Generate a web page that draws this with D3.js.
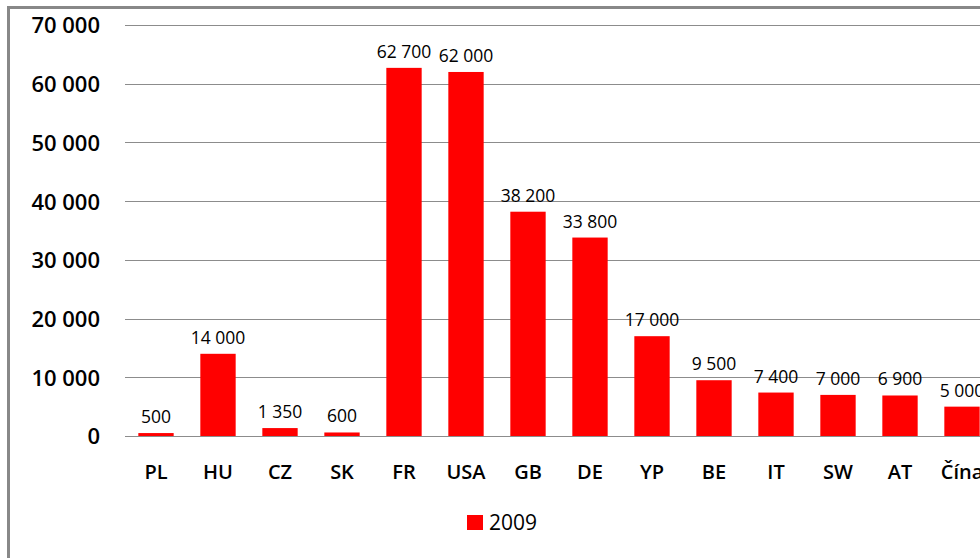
<!DOCTYPE html>
<html>
<head>
<meta charset="utf-8">
<script src="https://cdn.jsdelivr.net/npm/d3@7"></script>
<style>
  html, body { margin: 0; padding: 0; background: #fff; overflow: hidden; }
  svg { display: block; }
</style>
</head>
<body>
<svg id="chart" width="980" height="558"></svg>
<script>
// Categories and 2009 values
const categories = ["PL", "HU", "CZ", "SK", "FR", "USA", "GB", "DE", "YP", "BE", "IT", "SW", "AT", "Čína"];
const values2009 = [500, 14000, 1350, 600, 62700, 62000, 38200, 33800, 17000, 9500, 7400, 7000, 6900, 5000];
const yTicks = [0, 10000, 20000, 30000, 40000, 50000, 60000, 70000];
const seriesName = "2009";

const fmtTick = v => d3.format(",")(v).replace(/,/g, " ");

const svg = d3.select("#chart");
const W = 980, H = 558;

// Outer frame (left and top edges visible)
svg.append("path")
  .attr("d", `M8.5,${H} V7.5 H${W}`)
  .attr("fill", "none")
  .attr("stroke", "#888")
  .attr("stroke-width", 3);

const plotLeft = 125, plotTop = 25, plotBottom = 436;
const band = 62;

const x = d3.scaleBand()
  .domain(categories)
  .range([plotLeft, plotLeft + band * categories.length])
  .paddingInner(0.43)
  .paddingOuter(0.215);

const y = d3.scaleLinear()
  .domain([0, 70000])
  .range([plotBottom, plotTop]);

// Gridlines
svg.append("g")
  .selectAll("line")
  .data(yTicks)
  .join("line")
  .attr("x1", plotLeft)
  .attr("x2", W)
  .attr("y1", d => Math.round(y(d)) + 0.5)
  .attr("y2", d => Math.round(y(d)) + 0.5)
  .attr("stroke", "#8c8c8c")
  .attr("stroke-width", 1);

// Y axis labels
const yAxis = d3.axisLeft(y).tickValues(yTicks).tickFormat(fmtTick).tickSize(0).tickPadding(0);
const gy = svg.append("g").attr("transform", "translate(100,0)").call(yAxis);
gy.select(".domain").remove();
gy.selectAll("text")
  .attr("font-family", "'Open Sans', sans-serif")
  .attr("font-size", 22)
  .attr("font-weight", 600)
  .attr("fill", "#000")
  .attr("dy", "0.36em");

// Bars
svg.append("g")
  .selectAll("rect")
  .data(categories)
  .join("rect")
  .attr("x", d => x(d))
  .attr("width", x.bandwidth())
  .attr("y", (d, i) => y(values2009[i]))
  .attr("height", (d, i) => y(0) - y(values2009[i]))
  .attr("fill", "#ff0000");

// Value labels
svg.append("g")
  .selectAll("text")
  .data(categories)
  .join("text")
  .attr("x", d => x(d) + x.bandwidth() / 2)
  .attr("y", (d, i) => y(values2009[i]) - 10)
  .attr("text-anchor", "middle")
  .attr("font-family", "'Open Sans', sans-serif")
  .attr("font-size", 17.5)
  .attr("font-weight", 500)
  .attr("fill", "#000")
  .text((d, i) => fmtTick(values2009[i]));

// Category axis labels
const xAxis = d3.axisBottom(x).tickSize(0).tickPadding(0);
const gx = svg.append("g").attr("transform", "translate(0,465)").call(xAxis);
gx.select(".domain").remove();
gx.selectAll("text")
  .attr("font-family", "'Open Sans', sans-serif")
  .attr("font-size", 20)
  .attr("font-weight", 600)
  .attr("fill", "#000")
  .attr("dy", "0.71em");

// Legend
const lg = svg.append("g").attr("transform", "translate(467,515)");
lg.append("rect").attr("width", 16).attr("height", 15).attr("fill", "#ff0000");
lg.append("text")
  .attr("x", 22)
  .attr("y", 15)
  .attr("font-family", "'Open Sans', sans-serif")
  .attr("font-size", 21)
  .attr("fill", "#000")
  .text(seriesName);
</script>
</body>
</html>
